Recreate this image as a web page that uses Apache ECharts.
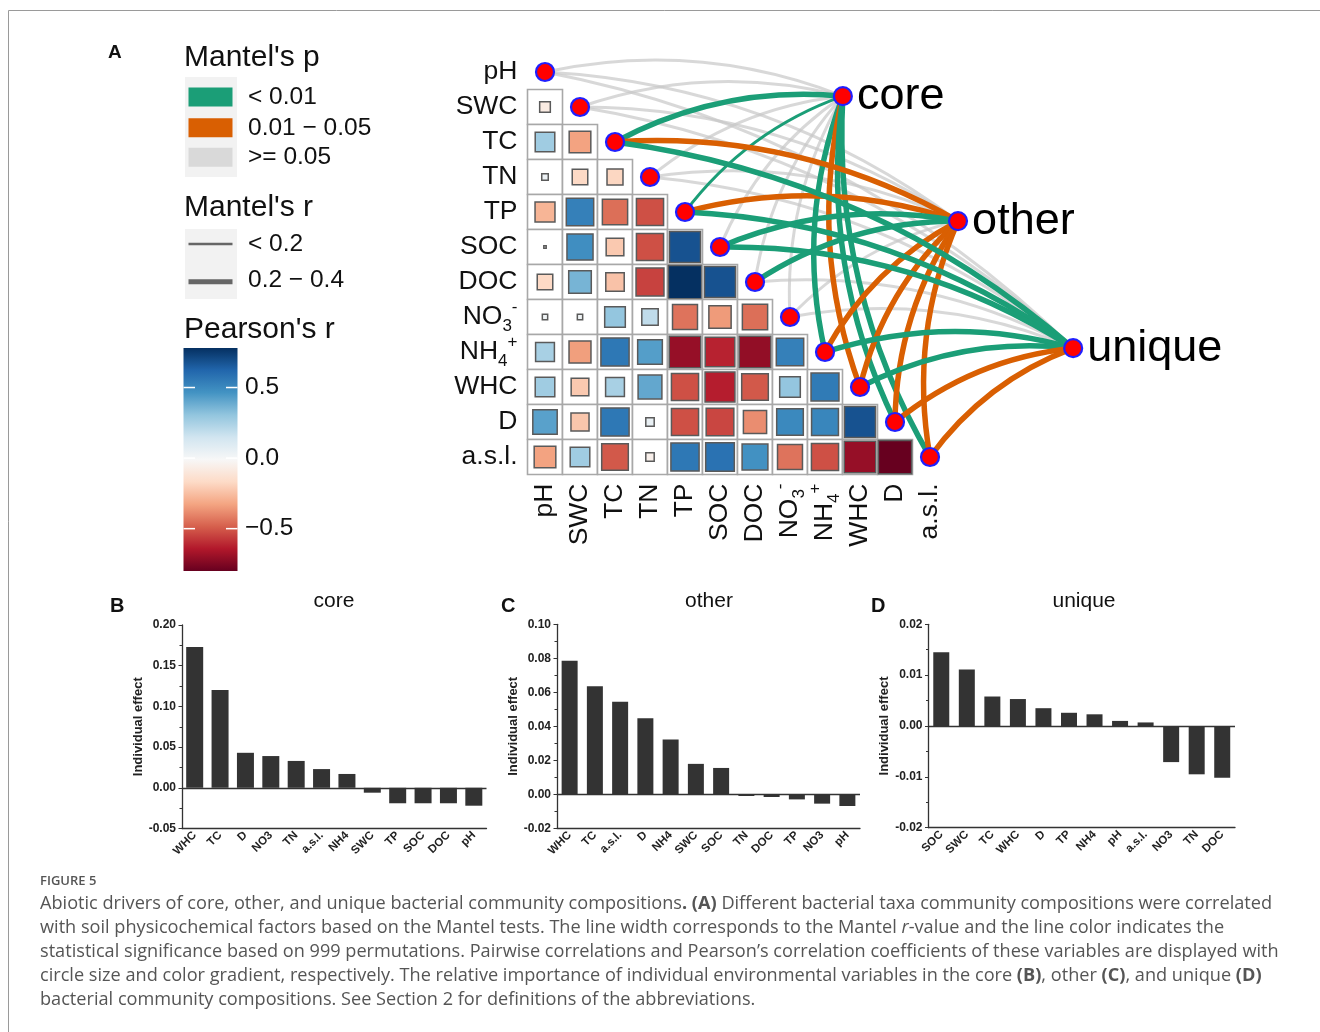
<!DOCTYPE html>
<html><head><meta charset="utf-8">
<script src="https://cdn.jsdelivr.net/npm/echarts@6/dist/echarts.min.js"></script>
<style>html,body{margin:0;padding:0;background:#fff}#c{width:1320px;height:1032px}</style>
</head><body><div id="c"></div>
<script>
// ---------------- DATA ----------------
const factors = ['pH','SWC','TC','TN','TP','SOC','DOC','NO3','NH4','WHC','D','a.s.l.'];
// Pearson's r, lower triangle (row i has i values, columns 0..i-1)
const pearsonRows = [
  [],
  [-0.08],
  [0.27,-0.33],
  [0.03,-0.17,-0.18],
  [-0.28,0.53,-0.45,-0.52],
  [0.004,0.48,-0.22,-0.52,0.68],
  [-0.17,0.36,-0.24,-0.55,0.78,0.68],
  [0.02,0.02,0.30,0.19,-0.44,-0.35,-0.45],
  [0.25,-0.34,0.56,0.43,-0.70,-0.62,-0.71,0.53],
  [0.27,-0.22,0.25,0.40,-0.52,-0.63,-0.50,0.30,0.55],
  [0.42,-0.23,0.56,0.05,-0.52,-0.54,-0.38,0.50,0.51,0.68],
  [-0.33,0.27,-0.50,-0.05,0.56,0.58,0.47,-0.44,-0.52,-0.70,-0.80]
];
const pearsonMin = -0.8, pearsonMax = 0.78;
const hubs = ['core','other','unique'];
// Mantel's p class per factor: 'a' <0.01, 'b' 0.01-0.05, 'c' >=0.05
const mantelPCore   = ['c','c','a','c','a','c','c','c','a','b','a','a'];
const mantelPOther  = ['c','c','b','c','b','a','a','c','b','b','b','b'];
const mantelPUnique = ['c','c','a','c','a','a','c','c','a','a','b','b'];
// Mantel's r class per factor: 's' <0.2, 'l' 0.2-0.4
const mantelRCore   = ['s','s','l','s','s','s','s','s','l','l','l','l'];
const mantelROther  = ['s','s','l','s','l','l','l','s','l','l','l','l'];
const mantelRUnique = ['s','s','l','s','l','l','s','s','l','l','l','l'];

const coreNames   = ['WHC','TC','D','NO3','TN','a.s.l.','NH4','SWC','TP','SOC','DOC','pH'];
const coreEffect  = [0.173,0.120,0.043,0.039,0.033,0.023,0.017,-0.006,-0.019,-0.019,-0.019,-0.022];
const otherNames  = ['WHC','TC','a.s.l.','D','NH4','SWC','SOC','TN','DOC','TP','NO3','pH'];
const otherEffect = [0.0785,0.0635,0.0545,0.0448,0.0323,0.0179,0.0155,-0.0010,-0.0016,-0.0030,-0.0055,-0.0069];
const uniqueNames  = ['SOC','SWC','TC','WHC','D','TP','NH4','pH','a.s.l.','NO3','TN','DOC'];
const uniqueEffect = [0.0145,0.0111,0.0058,0.0053,0.0035,0.0026,0.0023,0.0010,0.0007,-0.0071,-0.0095,-0.0102];

const pearsonTicks = [0.5, 0.0, -0.5];
const pearsonTickLabels = ['0.5','0.0','\u22120.5'];

// ---------------- LAYOUT / STYLE ----------------
const hubPos = [[8.51,0.69],[11.80,4.26],[15.09,7.89]];
const FONT = '"Liberation Sans", Arial, Helvetica, sans-serif';
const rdbu = ['#67001f','#b2182b','#d6604d','#f4a582','#fddbc7','#f7f7f7','#d1e5f0','#92c5de','#4393c3','#2166ac','#053061'];
const pColor = {a:'#1b9e77', b:'#d95f02', c:'rgba(200,200,200,0.7)'};
const rWidth = {s:3, l:5.5};

const heatData = [];
pearsonRows.forEach((row, r) => row.forEach((v, c) => heatData.push([c, r, v])));

const edges = [];
[[mantelPCore,mantelRCore],[mantelPOther,mantelROther],[mantelPUnique,mantelRUnique]].forEach((pr, h) => {
  factors.forEach((f, i) => {
    edges.push({coords:[[i,i], hubPos[h]], p: pr[0][i],
      lineStyle:{color:pColor[pr[0][i]], width:rWidth[pr[1][i]], curveness:0.15, opacity:1}});
  });
});
edges.sort((a,b) => (a.p==='c'?0:1) - (b.p==='c'?0:1));

function labFmt(v){
  if (v==='NO3') return '{n|NO}{s|3}{p|-}';
  if (v==='NH4') return '{n|NH}{s|4}{p|+}';
  return '{n|' + v + '}';
}
const labRich = {
  n:{fontSize:26.5, fontFamily:FONT, color:'#111', lineHeight:36, verticalAlign:'middle'},
  s:{fontSize:17, fontFamily:FONT, color:'#111', verticalAlign:'bottom'},
  p:{fontSize:17, fontFamily:FONT, color:'#111', verticalAlign:'top'}
};

function barX(gi, names){
  return {gridIndex:gi, type:'category', data:names,
    axisLine:{onZero:false, lineStyle:{color:'#333', width:1.3}},
    axisTick:{show:false},
    axisLabel:{interval:0, rotate:45, margin:5, fontSize:11.5, fontWeight:'bold', fontFamily:FONT, color:'#222'}};
}
function barY(gi, min, max, step, gap){
  return {gridIndex:gi, type:'value', min:min, max:max, interval:step,
    name:'Individual effect', nameLocation:'middle', nameGap:gap,
    nameTextStyle:{fontSize:13, fontWeight:'bold', fontFamily:FONT, color:'#222'},
    axisLine:{show:true, lineStyle:{color:'#333', width:1.3}},
    axisTick:{show:true, length:3.5, lineStyle:{color:'#333'}},
    minorTick:{show:true, splitNumber:2, length:2.5, lineStyle:{color:'#333'}},
    splitLine:{show:false},
    axisLabel:{margin:6, fontSize:12, fontWeight:'bold', fontFamily:FONT, color:'#222',
      formatter: v => v.toFixed(2)}};
}
function barS(xi, vals, w){
  return {type:'bar', xAxisIndex:xi, yAxisIndex:xi, data:vals, barWidth:w,
    itemStyle:{color:'#333'},
    markLine:{silent:true, symbol:'none', label:{show:false}, animation:false,
      lineStyle:{color:'#333', width:1.3, type:'solid'}, data:[{yAxis:0}]}};
}

// ---------------- GRAPHIC (legend, labels, caption) ----------------
const G = [];
function txt(x,y,t,size,opts){
  opts = opts || {};
  G.push({type:'text', x:x, y:y, z:10, style:Object.assign({text:t, fontSize:size, fontFamily:opts.family||FONT,
    fontWeight:opts.weight||'normal', fill:opts.fill||'#111',
    align:opts.align||'left', verticalAlign:'middle', textAlign:opts.align||'left', textVerticalAlign:'middle'}, opts.extra||{})});
}
// frame
G.push({type:'line', shape:{x1:8.5,y1:10.5,x2:1320,y2:10.5}, style:{stroke:'#9a9a9a', lineWidth:1}});
G.push({type:'line', shape:{x1:8.5,y1:10.5,x2:8.5,y2:1032}, style:{stroke:'#9a9a9a', lineWidth:1}});
// panel A legend
txt(108,52.5,'A',19,{weight:'bold'});
txt(184,58,"Mantel's p",30);
G.push({type:'rect', shape:{x:185,y:77,width:52,height:100}, style:{fill:'#f2f2f2'}});
[['#1b9e77',87.5,'< 0.01'],['#d95f02',118.3,'0.01 \u2212 0.05'],['#d9d9d9',147.7,'>= 0.05']].forEach(s=>{
  G.push({type:'rect', shape:{x:188.5,y:s[1],width:44,height:19}, style:{fill:s[0]}});
  txt(248,s[1]+9.5,s[2],24.5);
});
txt(184,208,"Mantel's r",30);
G.push({type:'rect', shape:{x:185,y:229,width:52,height:70}, style:{fill:'#f2f2f2'}});
G.push({type:'line', shape:{x1:188.5,y1:244,x2:232.5,y2:244}, style:{stroke:'#666', lineWidth:2.5}});
G.push({type:'line', shape:{x1:188.5,y1:281.7,x2:232.5,y2:281.7}, style:{stroke:'#666', lineWidth:5}});
txt(248,244,'< 0.2',24.5);
txt(248,280,'0.2 \u2212 0.4',24.5);
txt(184,330,"Pearson's r",30);
const cbTop = 348, cbH = 223;
G.push({type:'rect', shape:{x:183.5,y:cbTop,width:54,height:cbH},
  style:{fill:new echarts.graphic.LinearGradient(0,0,0,1, rdbu.slice().reverse().map((c,i)=>({offset:i/(rdbu.length-1), color:c})))}});
pearsonTicks.forEach((v,i)=>{
  const y = cbTop + (pearsonMax - v)/(pearsonMax - pearsonMin)*cbH;
  G.push({type:'line', shape:{x1:183.5,y1:y,x2:195,y2:y}, style:{stroke:'#fff', lineWidth:1.5}});
  G.push({type:'line', shape:{x1:226,y1:y,x2:237.5,y2:y}, style:{stroke:'#fff', lineWidth:1.5}});
  txt(245,y,pearsonTickLabels[i],24.5);
});
// panel B-D labels
txt(110,606,'B',20,{weight:'bold'});
txt(501,606,'C',20,{weight:'bold'});
txt(871,606,'D',20,{weight:'bold'});
txt(334,601,'core',21,{align:'center'});
txt(709,601,'other',21,{align:'center'});
txt(1084,601,'unique',21,{align:'center'});
// caption
const CAPF = '"Open Sans", "Noto Sans", sans-serif';
const capLines = [
  'Abiotic drivers of core, other, and unique bacterial community compositions{b|. (A)} Different bacterial taxa community compositions were correlated',
  'with soil physicochemical factors based on the Mantel tests. The line width corresponds to the Mantel {i|r}-value and the line color indicates the',
  'statistical significance based on 999 permutations. Pairwise correlations and Pearson\u2019s correlation coefficients of these variables are displayed with',
  'circle size and color gradient, respectively. The relative importance of individual environmental variables in the core {b|(B)}, other {b|(C)}, and unique {b|(D)}',
  'bacterial community compositions. See Section 2 for definitions of the abbreviations.'
];
const mctx = document.createElement('canvas').getContext('2d');
mctx.font = '16px "Open Sans"';
const plain1 = capLines[0].replace(/\{b\|([^}]*)\}/g,'$1');
const capSize = 16 * 1230 / mctx.measureText(plain1).width;
txt(40,881,'FIGURE 5',13,{family:CAPF, weight:'600', fill:'#555'});
capLines.forEach((l,i)=>{
  txt(40,904+24*i,l,capSize,{family:CAPF, fill:'#555', extra:{rich:{
    b:{fontWeight:'bold', fontSize:capSize, fontFamily:CAPF, fill:'#555'},
    i:{fontStyle:'italic', fontSize:capSize, fontFamily:CAPF, fill:'#555'}}}});
});

// ---------------- CHART ----------------
const chart = echarts.init(document.getElementById('c'));
chart.setOption({
  animation:false,
  backgroundColor:'#fff',
  grid:[
    {left:527.5, top:54.5, width:420, height:420},
    {left:527.5, top:54.5, width:700, height:420},
    {left:182, top:625, width:304.5, height:203.5},
    {left:557, top:624.3, width:303, height:204},
    {left:928.5, top:624.3, width:306.5, height:203.4}
  ],
  xAxis:[
    {gridIndex:0, type:'category', data:factors, axisLine:{show:false}, axisTick:{show:false},
      axisLabel:{interval:0, rotate:90, margin:9, formatter:labFmt, rich:labRich}},
    {gridIndex:1, type:'value', min:-0.5, max:19.5, show:false},
    barX(2, coreNames), barX(3, otherNames), barX(4, uniqueNames)
  ],
  yAxis:[
    {gridIndex:0, type:'category', data:factors, inverse:true, axisLine:{show:false}, axisTick:{show:false},
      axisLabel:{interval:0, margin:10, formatter:labFmt, rich:labRich}},
    {gridIndex:1, type:'value', min:-0.5, max:11.5, inverse:true, show:false},
    barY(2, -0.05, 0.20, 0.05, 37),
    barY(3, -0.02, 0.10, 0.02, 37),
    barY(4, -0.02, 0.02, 0.01, 35)
  ],
  visualMap:[{type:'continuous', show:false, seriesIndex:0, dimension:2, min:pearsonMin, max:pearsonMax, inRange:{color:rdbu}}],
  series:[
    {type:'custom', xAxisIndex:0, yAxisIndex:0, z:2, data:heatData, encode:{x:0,y:1},
      renderItem:(params, api)=>{
        const c = api.coord([api.value(0), api.value(1)]);
        const s = api.size([1,1]);
        const v = api.value(2);
        const side = Math.min(1, Math.sqrt(Math.abs(v)/pearsonMax)) * s[0] * 0.95;
        return {type:'group', children:[
          {type:'rect', shape:{x:c[0]-s[0]/2, y:c[1]-s[1]/2, width:s[0], height:s[1]}, style:{fill:'#fff', stroke:'#a8a8a8', lineWidth:1.6}},
          {type:'rect', shape:{x:c[0]-side/2, y:c[1]-side/2, width:side, height:side}, style:{fill:api.visual('color'), stroke:'#5a5a5a', lineWidth:1.5}}
        ]};
      }},
    {type:'lines', coordinateSystem:'cartesian2d', xAxisIndex:1, yAxisIndex:1, z:3, silent:true,
      lineStyle:{opacity:1}, data:edges},
    {type:'scatter', xAxisIndex:1, yAxisIndex:1, z:5, symbolSize:18,
      itemStyle:{color:'#ff0000', borderColor:'#1f1fff', borderWidth:2.2, opacity:1},
      data:factors.map((f,i)=>[i,i])},
    {type:'scatter', xAxisIndex:1, yAxisIndex:1, z:5, symbolSize:18,
      itemStyle:{color:'#ff0000', borderColor:'#1f1fff', borderWidth:2.2, opacity:1},
      label:{show:true, position:'right', distance:4, formatter:'{b}', fontSize:45, fontFamily:FONT, color:'#000'},
      data:hubs.map((h,i)=>({name:h, value:hubPos[i]}))},
    barS(2, coreEffect, 17), barS(3, otherEffect, 16), barS(4, uniqueEffect, 16)
  ],
  graphic:{elements:G}
});
</script></body></html>
